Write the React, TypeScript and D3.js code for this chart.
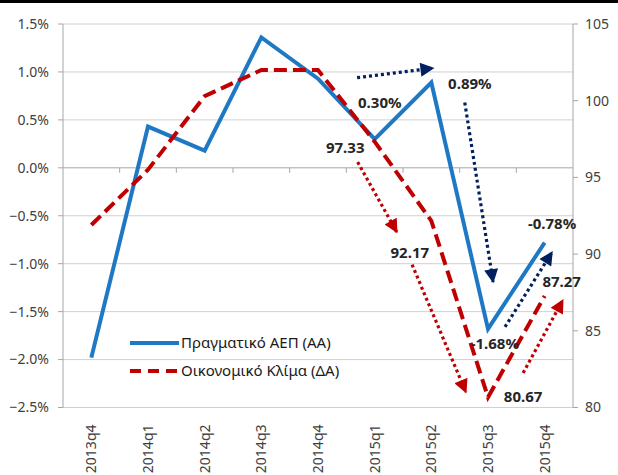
import React from 'react';
import * as d3 from 'd3';

const quarters = ['2013q4', '2014q1', '2014q2', '2014q3', '2014q4', '2015q1', '2015q2', '2015q3', '2015q4'];
const gdpGrowth = [-1.98, 0.43, 0.18, 1.36, 0.93, 0.30, 0.89, -1.68, -0.78];
const climate = [91.9, 95.5, 100.3, 102.0, 102.0, 97.33, 92.17, 80.67, 87.27];
const leftTicks = [-2.5, -2.0, -1.5, -1.0, -0.5, 0, 0.5, 1.0, 1.5];
const rightTicks = [80, 85, 90, 95, 100, 105];

// annotation labels, placed in data space (fractional quarter index, % on left axis)
const noteLabels = [
    { text: '0.30%', i: 5.09, v: 0.68 },
    { text: '0.89%', i: 6.68, v: 0.88 },
    { text: '97.33', i: 4.48, v: 0.21 },
    { text: '92.17', i: 5.62, v: -0.89 },
    { text: '-1.68%', i: 7.12, v: -1.83 },
    { text: '-0.78%', i: 8.13, v: -0.58 },
    { text: '87.27', i: 8.3, v: -1.19 },
    { text: '80.67', i: 7.62, v: -2.39 },
];

const navyArrows = [
    { i0: 4.69, v0: 0.94, i1: 6.03, v1: 1.04 },
    { i0: 6.59, v0: 0.68, i1: 7.09, v1: -1.19 },
    { i0: 7.3, v0: -1.66, i1: 8.13, v1: -0.88 },
];
const redArrows = [
    { i0: 4.7, v0: 0.06, i1: 5.39, v1: -0.67 },
    { i0: 5.66, v0: -1.01, i1: 6.61, v1: -2.34 },
    { i0: 7.62, v0: -2.14, i1: 8.32, v1: -1.38 },
];

const width = 618;
const height = 475;
const margin = { top: 24, right: 45, bottom: 67.5, left: 63 };

const BLUE = '#1f78c4';
const RED = '#c00000';
const NAVY = '#002060';
const GRID = '#d0d0d0';
const AXIS = '#a6a6a6';
const LABEL = '#404040';
const FONT = "'Noto Sans', 'Liberation Sans', sans-serif";

export default function App() {
    const x = d3.scaleBand<string>()
        .domain(quarters)
        .range([margin.left, width - margin.right])
        .padding(0);
    const bw = x.bandwidth();
    const xi = (i: number) => (x(quarters[0]) as number) + bw / 2 + i * bw;
    const cx = (q: string) => (x(q) as number) + bw / 2;

    const yL = d3.scaleLinear().domain([-2.5, 1.5]).range([height - margin.bottom, margin.top]);
    const yR = d3.scaleLinear().domain([80, 105]).range([height - margin.bottom, margin.top]);

    const gdpLine = d3.line<number>().x((_, i) => cx(quarters[i])).y(d => yL(d));
    const climateLine = d3.line<number>().x((_, i) => cx(quarters[i])).y(d => yR(d));

    const left = margin.left;
    const right = width - margin.right;

    return (
        <svg width={width} height={height} style={{ position: 'absolute', left: 0, top: 0, background: '#fff' }} fontFamily={FONT}>
            <defs>
                <marker id="headNavy" viewBox="0 0 10 10" refX="9" refY="5" markerWidth="15" markerHeight="14"
                    markerUnits="userSpaceOnUse" orient="auto">
                    <path d="M0,0 L10,5 L0,10 Z" fill={NAVY} />
                </marker>
                <marker id="headRed" viewBox="0 0 10 10" refX="9" refY="5" markerWidth="15" markerHeight="14"
                    markerUnits="userSpaceOnUse" orient="auto">
                    <path d="M0,0 L10,5 L0,10 Z" fill={RED} />
                </marker>
            </defs>
            <rect x={0} y={0} width={width} height={3} fill="#000" />

            {/* gridlines */}
            {leftTicks.map(t => (
                <line key={t} x1={left} x2={right} y1={yL(t)} y2={yL(t)}
                    stroke={t === 0 ? AXIS : GRID} strokeWidth={1} />
            ))}
            {/* category ticks on the zero line */}
            {quarters.slice(1).map(q => (
                <line key={q} x1={x(q)} x2={x(q)} y1={yL(0)} y2={yL(0) + 5} stroke={AXIS} />
            ))}

            {/* left axis */}
            <line x1={left} x2={left} y1={margin.top} y2={yL(-2.5)} stroke={AXIS} />
            {leftTicks.map(t => (
                <g key={t}>
                    <line x1={left - 5} x2={left} y1={yL(t)} y2={yL(t)} stroke={AXIS} />
                    <text x={left - 14} y={yL(t)} dy="0.35em" textAnchor="end" fontSize={14} fill={LABEL}>
                        {d3.format('.1%')(t / 100)}
                    </text>
                </g>
            ))}

            {/* right axis */}
            <line x1={right} x2={right} y1={margin.top} y2={yR(80)} stroke={AXIS} />
            {rightTicks.map(t => (
                <g key={t}>
                    <line x1={right} x2={right + 5} y1={yR(t)} y2={yR(t)} stroke={AXIS} />
                    <text x={right + 12} y={yR(t)} dy="0.35em" textAnchor="start" fontSize={14} fill={LABEL}>
                        {t}
                    </text>
                </g>
            ))}

            {/* x labels */}
            {quarters.map(q => (
                <text key={q} transform={`translate(${cx(q) + 5},${height - margin.bottom + 17}) rotate(-90)`}
                    textAnchor="end" fontSize={14} fill={LABEL}>
                    {q}
                </text>
            ))}

            {/* series */}
            <path d={gdpLine(gdpGrowth) || ''} fill="none" stroke={BLUE} strokeWidth={4} strokeLinejoin="miter" />
            <path d={climateLine(climate) || ''} fill="none" stroke={RED} strokeWidth={4} strokeDasharray="13 6" />

            {/* arrows */}
            {navyArrows.map((a, k) => (
                <line key={'n' + k} x1={xi(a.i0)} y1={yL(a.v0)} x2={xi(a.i1)} y2={yL(a.v1)}
                    stroke={NAVY} strokeWidth={3.2} strokeDasharray="3 3" markerEnd="url(#headNavy)" />
            ))}
            {redArrows.map((a, k) => (
                <line key={'r' + k} x1={xi(a.i0)} y1={yL(a.v0)} x2={xi(a.i1)} y2={yL(a.v1)}
                    stroke={RED} strokeWidth={3.2} strokeDasharray="3 3" markerEnd="url(#headRed)" />
            ))}

            {/* value labels */}
            {noteLabels.map(n => (
                <text key={n.text} x={xi(n.i)} y={yL(n.v)} dy="0.35em" textAnchor="middle"
                    fontSize={15} fontWeight="bold" fill="#262626">
                    {n.text}
                </text>
            ))}

            {/* legend */}
            <line x1={130} x2={179} y1={343} y2={343} stroke={BLUE} strokeWidth={4} />
            <text x={181} y={343} dy="0.35em" fontSize={15} fill="#1a1a1a">Πραγματικό ΑΕΠ (ΑΑ)</text>
            <line x1={130} x2={179} y1={371} y2={371} stroke={RED} strokeWidth={4} strokeDasharray="11 7" />
            <text x={181} y={371} dy="0.35em" fontSize={15} fill="#1a1a1a">Οικονομικό Κλίμα (ΔΑ)</text>
        </svg>
    );
}
